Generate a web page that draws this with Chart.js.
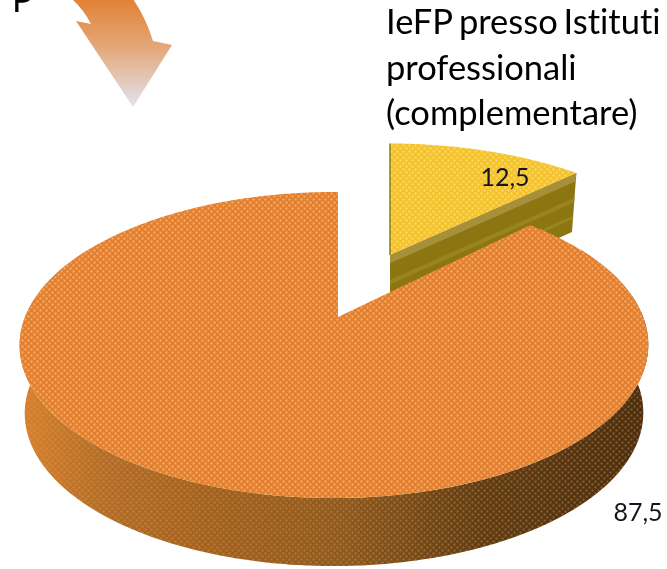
<!DOCTYPE html>
<html>
<head>
<meta charset="utf-8">
<script src="https://cdn.jsdelivr.net/npm/chart.js@4/dist/chart.umd.min.js"></script>
<style>html,body{margin:0;padding:0;background:#fff}canvas{display:block}</style>
</head>
<body>
<div style="width:667px;height:569px"><canvas id="c" width="667" height="569"></canvas></div>
<script>
const categories = ['IeFP presso Istituti professionali (complementare)', 'P'];
const values = [12.5, 87.5];
const titleLines = ['IeFP presso Istituti', 'professionali', '(complementare)'];

const K = 0.183, M = 0.0127;
const FONT = 'Lato, Carlito, sans-serif';
const discs = [
  { top: {x:390,y:255,a:132,b:300}, bot: {x:390,y:314,a:132,b:293} },
  { top: {x:338,y:317,a:147.9,b:309}, bot: {x:338,y:385,a:147.9,b:304} }
];
function proj(th, d){
  const u = Math.sin(th), v = Math.cos(th), q = 1 + K*v + M*u;
  return [d.x + d.b*u/q, d.y - d.a*v/q];
}
function arcPts(a0, a1, d){
  const n = Math.max(2, Math.ceil(Math.abs(a1-a0)/0.01)), pts = [];
  for (let i=0;i<=n;i++) pts.push(proj(a0+(a1-a0)*i/n, d));
  return pts;
}
function trace(ctx, pts, start){
  pts.forEach((p,i)=> (i===0&&start) ? ctx.moveTo(p[0],p[1]) : ctx.lineTo(p[0],p[1]));
}
function dotPattern(ctx, base, dot){
  const t = document.createElement('canvas'); t.width = 6; t.height = 6;
  const g = t.getContext('2d');
  if (base){ g.fillStyle = base; g.fillRect(0,0,6,6); }
  [[1.5,1.5],[4.5,4.5]].forEach(([x,y])=>{
    const r = g.createRadialGradient(x,y,0,x,y,1.9);
    r.addColorStop(0, dot); r.addColorStop(1, dot.replace(/[\d.]+\)$/, '0)'));
    g.fillStyle = r; g.fillRect(0,0,6,6);
  });
  return ctx.createPattern(t,'repeat');
}
const pie3d = {
  id: 'pie3d',
  beforeDatasetsDraw(chart){
    const ctx = chart.ctx, arcs = chart.getDatasetMeta(0).data;
    const s = arcs.map(e=>e.startAngle + Math.PI/2), e = arcs.map(e=>e.endAngle + Math.PI/2);
    ctx.save();
    // exploded small slice
    const y = discs[0];
    const yc = proj(e[0], y.top), ycb = proj(e[0], y.bot);
    ctx.beginPath();
    ctx.moveTo(y.top.x,y.top.y); ctx.lineTo(yc[0],yc[1]); ctx.lineTo(ycb[0],ycb[1]); ctx.lineTo(y.bot.x,y.bot.y); ctx.closePath();
    ctx.fillStyle = '#8C7611'; ctx.fill();
    for (const [f0,f1,col] of [[0,0.14,'#A8903A'],[0.42,0.5,'#9A8420'],[0.72,0.78,'#9A8420']]){
      ctx.beginPath();
      ctx.moveTo(y.top.x+(y.bot.x-y.top.x)*f0, y.top.y+(y.bot.y-y.top.y)*f0);
      ctx.lineTo(yc[0]+(ycb[0]-yc[0])*f0, yc[1]+(ycb[1]-yc[1])*f0);
      ctx.lineTo(yc[0]+(ycb[0]-yc[0])*f1, yc[1]+(ycb[1]-yc[1])*f1);
      ctx.lineTo(y.top.x+(y.bot.x-y.top.x)*f1, y.top.y+(y.bot.y-y.top.y)*f1);
      ctx.closePath(); ctx.fillStyle = col; ctx.fill();
    }
    ctx.beginPath(); ctx.moveTo(y.top.x,y.top.y); trace(ctx, arcPts(s[0],e[0],y.top)); ctx.closePath();
    ctx.fillStyle = dotPattern(ctx,'#F4C22C','rgba(255,226,120,0.85)'); ctx.fill();
    ctx.beginPath(); ctx.moveTo(y.top.x, proj(s[0],y.top)[1]); ctx.lineTo(y.top.x, y.top.y);
    ctx.strokeStyle = '#8A7A20'; ctx.lineWidth = 1.5; ctx.stroke();

    // big slice wall
    const o = discs[1];
    const w0 = Math.PI/3, w1 = 5*Math.PI/3;
    ctx.beginPath();
    trace(ctx, arcPts(w0,w1,o.top), true);
    trace(ctx, arcPts(w1,w0,o.bot));
    ctx.closePath();
    const grad = ctx.createLinearGradient(20,0,645,0);
    [[0,'#D9812F'],[0.13,'#B36E28'],[0.29,'#A3621F'],[0.51,'#8E5A20'],[0.74,'#5F3C14'],[1,'#4A2E10']]
      .forEach(c=>grad.addColorStop(c[0],c[1]));
    ctx.fillStyle = grad; ctx.fill();
    ctx.fillStyle = dotPattern(ctx,null,'rgba(225,160,90,0.42)'); ctx.fill();
    // big slice top
    ctx.beginPath(); ctx.moveTo(o.top.x,o.top.y); trace(ctx, arcPts(s[1],e[1],o.top)); ctx.closePath();
    ctx.fillStyle = dotPattern(ctx,'#E27F30','rgba(252,182,108,0.9)'); ctx.fill();
    ctx.restore();
    return false;
  },
  afterDraw(chart){
    const ctx = chart.ctx;
    ctx.save();
    // arrow
    const g = ctx.createLinearGradient(0,0,0,107);
    g.addColorStop(0,'#E28236'); g.addColorStop(0.45,'#E4A87A'); g.addColorStop(1,'#E3E3EE');
    ctx.beginPath();
    ctx.moveTo(72,-1); ctx.quadraticCurveTo(84,10,91,24); ctx.lineTo(76,21); ctx.lineTo(133,107);
    ctx.lineTo(172,45); ctx.lineTo(153,41); ctx.quadraticCurveTo(146,18,133,-1); ctx.closePath();
    ctx.fillStyle = g; ctx.fill();
    // texts
    ctx.fillStyle = '#000'; ctx.textBaseline = 'alphabetic'; ctx.textAlign = 'left';
    ctx.font = '34.5px ' + FONT;
    ctx.textRendering = 'optimizeSpeed';
    ctx.wordSpacing = '-3px';
    ctx.fillText(categories[1], 12, 12);
    titleLines.forEach((t,i)=> ctx.fillText(t, 386, 34 + i*45.5));
    ctx.wordSpacing = '0px';
    ctx.font = '25px ' + FONT; ctx.fillStyle = '#15151f'; ctx.textAlign = 'center'; ctx.textBaseline = 'middle';
    const fmt = v => v.toFixed(1).replace('.',',');
    ctx.fillText(fmt(values[0]), 505, 178);
    ctx.fillText(fmt(values[1]), 638, 513);
    ctx.restore();
  }
};
new Chart(document.getElementById('c'), {
  type: 'pie',
  data: { labels: categories, datasets: [{ data: values, backgroundColor: ['#F4C22C','#E27F30'] }] },
  options: {
    responsive: false, animation: false, rotation: 0,
    plugins: { legend: { display:false }, tooltip: { enabled:false } }
  },
  plugins: [pie3d]
});
</script>
</body>
</html>
